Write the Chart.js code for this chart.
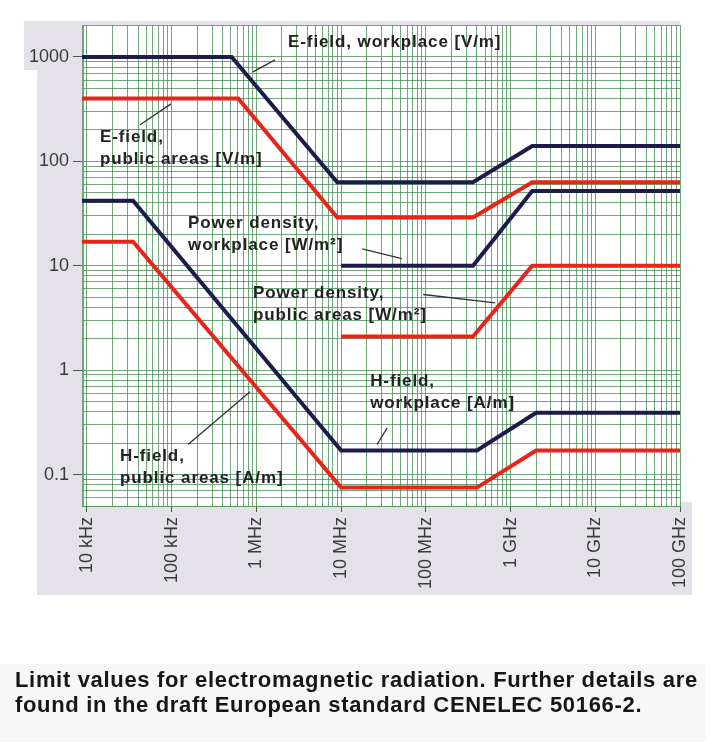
<!DOCTYPE html>
<html>
<head>
<meta charset="utf-8">
<script src="https://cdn.jsdelivr.net/npm/chart.js@4.4.0/dist/chart.umd.min.js"></script>
<style>
  html, body { margin: 0; padding: 0; background: #fff; }
  #wrap { position: relative; width: 716px; height: 750px; }
  #c { position: absolute; left: 0; top: 0; }
  #caption { position: absolute; left: 15px; top: 667px; font: bold 22px "Liberation Sans", Arial, sans-serif; color: #161616; line-height: 25px; white-space: nowrap; }
</style>
</head>
<body>
<div id="wrap">
  <canvas id="c" width="716" height="750"></canvas>
  <div id="caption"><span id="cap1">Limit values for electromagnetic radiation. Further details are</span><br><span id="cap2">found in the draft European standard CENELEC 50166-2.</span></div>
</div>
<script>
// frequencies in Hz, limits in V/m, A/m, W/m2
var eWorkFreq = [8.73e3, 5.1e5, 9e6, 3.6e8, 1.8e9, 1e11];
var eWorkVal = [1000, 1000, 63, 63, 140, 140];
var ePublicFreq = [8.73e3, 6.1e5, 9e6, 3.6e8, 1.8e9, 1e11];
var ePublicVal = [400, 400, 29, 29, 63, 63];
var hFreq = [8.73e3, 3.5e4, 1e7, 4e8, 2e9, 1e11];
var hWorkVal = [42, 42, 0.17, 0.17, 0.39, 0.39];
var hPublicVal = [17, 17, 0.075, 0.075, 0.17, 0.17];
var pdFreq = [1e7, 3.6e8, 1.8e9, 1e11];
var pdWorkVal = [10, 10, 52, 52];
var pdPublicVal = [2.1, 2.1, 10, 10];

var xTickVals = [1e4, 1e5, 1e6, 1e7, 1e8, 1e9, 1e10, 1e11];
var xTickLabels = ['10 kHz', '100 kHz', '1 MHz', '10 MHz', '100 MHz', '1 GHz', '10 GHz', '100 GHz'];
var yTickVals = [0.1, 1, 10, 100, 1000];
var yTickLabels = ['0.1', '1', '10', '100', '1000'];

var NAVY = '#1d1b4c';
var RED = '#e8241a';
var GRID = 'rgba(70,142,84,0.78)';

// labels with leader lines, anchored in data coordinates
var notes = [
  { f: 2.36e6, v: 1390, lines: ['E-field, workplace [V/m]'], from: [1.66e6, 936], to: [9.1e5, 719] },
  { f: 1.42e4, v: 171, lines: ['E-field,', 'public areas [V/m]'], from: [9.8e4, 355], to: [4.2e4, 223] },
  { f: 1.56e5, v: 25.2, lines: ['Power density,', 'workplace [W/m\u00b2]'], from: [1.77e7, 14.5], to: [5.2e7, 11.7] },
  { f: 9.1e5, v: 5.5, lines: ['Power density,', 'public areas [W/m\u00b2]'], from: [9.3e7, 5.3], to: [6.6e8, 4.4] },
  { f: 2.2e7, v: 0.776, lines: ['H-field,', 'workplace [A/m]'], from: [3.5e7, 0.28], to: [2.65e7, 0.194] },
  { f: 2.45e4, v: 0.149, lines: ['H-field,', 'public areas [A/m]'], from: [8.4e5, 0.62], to: [1.56e5, 0.194] }
];

function pts(fs, vs) {
  return fs.map(function(f, i) { return { x: f, y: vs[i] }; });
}

function logTicks(min, max) {
  var out = [];
  for (var k = Math.floor(Math.log10(min)); k <= Math.ceil(Math.log10(max)); k++) {
    for (var n = 1; n <= 9; n++) {
      var v = n * Math.pow(10, k);
      if (v >= min * 0.999 && v <= max * 1.001) out.push({ value: v });
    }
  }
  return out;
}

function isDecade(v) {
  var l = Math.log10(v);
  return Math.abs(l - Math.round(l)) < 1e-6;
}

function labelFor(vals, labels, value) {
  for (var i = 0; i < vals.length; i++) {
    if (Math.abs(vals[i] / value - 1) < 1e-6) return labels[i];
  }
  return '';
}

function line(data, color) {
  return {
    data: data,
    borderColor: color,
    borderWidth: 4,
    pointRadius: 0,
    fill: false,
    tension: 0,
    borderJoinStyle: 'miter'
  };
}

var backdrop = {
  id: 'backdrop',
  beforeDraw: function(chart) {
    var ctx = chart.ctx, a = chart.chartArea;
    ctx.save();
    ctx.fillStyle = '#fff';
    ctx.fillRect(0, 0, chart.width, chart.height);
    ctx.fillStyle = '#e4e2e8';
    ctx.fillRect(37, 21, 643, 574);
    ctx.fillRect(680, 502, 12, 93);
    ctx.fillRect(24, 21, 13, 49);
    ctx.fillStyle = '#f7f7f7';
    ctx.fillRect(0, 664, 706, 78);
    ctx.fillStyle = '#fff';
    ctx.fillRect(a.left, a.top, a.right - a.left, a.bottom - a.top);
    ctx.restore();
  }
};

var callouts = {
  id: 'callouts',
  afterDatasetsDraw: function(chart) {
    var ctx = chart.ctx, sx = chart.scales.x, sy = chart.scales.y;
    ctx.save();
    ctx.font = 'bold 17px "Liberation Sans", Arial, sans-serif';
    try { ctx.letterSpacing = '0.9px'; } catch (e) {}
    ctx.fillStyle = '#222';
    ctx.textAlign = 'left';
    ctx.textBaseline = 'middle';
    notes.forEach(function(n) {
      var x = sx.getPixelForValue(n.f), y = sy.getPixelForValue(n.v);
      n.lines.forEach(function(t, i) { ctx.fillText(t, x, y + i * 22); });
      ctx.strokeStyle = '#333';
      ctx.lineWidth = 1.3;
      ctx.beginPath();
      ctx.moveTo(sx.getPixelForValue(n.from[0]), sy.getPixelForValue(n.from[1]));
      ctx.lineTo(sx.getPixelForValue(n.to[0]), sy.getPixelForValue(n.to[1]));
      ctx.stroke();
    });
    ctx.restore();
  }
};

var tickFont = { family: '"Liberation Sans", Arial, sans-serif', size: 18 };

new Chart(document.getElementById('c'), {
  type: 'line',
  data: {
    datasets: [
      line(pts(eWorkFreq, eWorkVal), NAVY),
      line(pts(ePublicFreq, ePublicVal), RED),
      line(pts(hFreq, hWorkVal), NAVY),
      line(pts(hFreq, hPublicVal), RED),
      line(pts(pdFreq, pdWorkVal), NAVY),
      line(pts(pdFreq, pdPublicVal), RED)
    ]
  },
  options: {
    responsive: false,
    animation: false,
    layout: { padding: { left: 0, right: 36, top: 25, bottom: 0 } },
    plugins: { legend: { display: false }, tooltip: { enabled: false } },
    scales: {
      x: {
        type: 'logarithmic',
        min: 8730,
        max: 1e11,
        afterBuildTicks: function(s) { s.ticks = logTicks(8730, 1e11); },
        afterFit: function(s) { s.height = 244; },
        border: { display: true, color: GRID },
        grid: {
          color: GRID,
          lineWidth: 1,
          tickLength: 6,
          tickColor: function(c) { return c.tick && isDecade(c.tick.value) ? '#555' : 'rgba(0,0,0,0)'; }
        },
        ticks: {
          autoSkip: false,
          maxRotation: 90,
          minRotation: 90,
          padding: 5,
          color: '#3a3a3a',
          font: tickFont,
          callback: function(v) { return labelFor(xTickVals, xTickLabels, v); }
        }
      },
      y: {
        type: 'logarithmic',
        min: 0.05,
        max: 2020,
        afterBuildTicks: function(s) { s.ticks = logTicks(0.05, 2020); },
        afterFit: function(s) { s.width = 82; },
        border: { display: true, color: GRID },
        grid: {
          color: GRID,
          lineWidth: 1,
          tickLength: 9,
          tickColor: function(c) { return c.tick && isDecade(c.tick.value) ? '#555' : 'rgba(0,0,0,0)'; }
        },
        ticks: {
          autoSkip: false,
          padding: 4,
          color: '#3a3a3a',
          font: tickFont,
          callback: function(v) { return labelFor(yTickVals, yTickLabels, v); }
        }
      }
    }
  },
  plugins: [backdrop, callouts]
});

// stretch caption tracking so the first line spans the printed width
var c1 = document.getElementById('cap1');
var n1 = c1.textContent.length;
var ls = (682 - c1.getBoundingClientRect().width) / (n1 - 1);
document.getElementById('caption').style.letterSpacing = ls.toFixed(2) + 'px';
</script>
</body>
</html>
